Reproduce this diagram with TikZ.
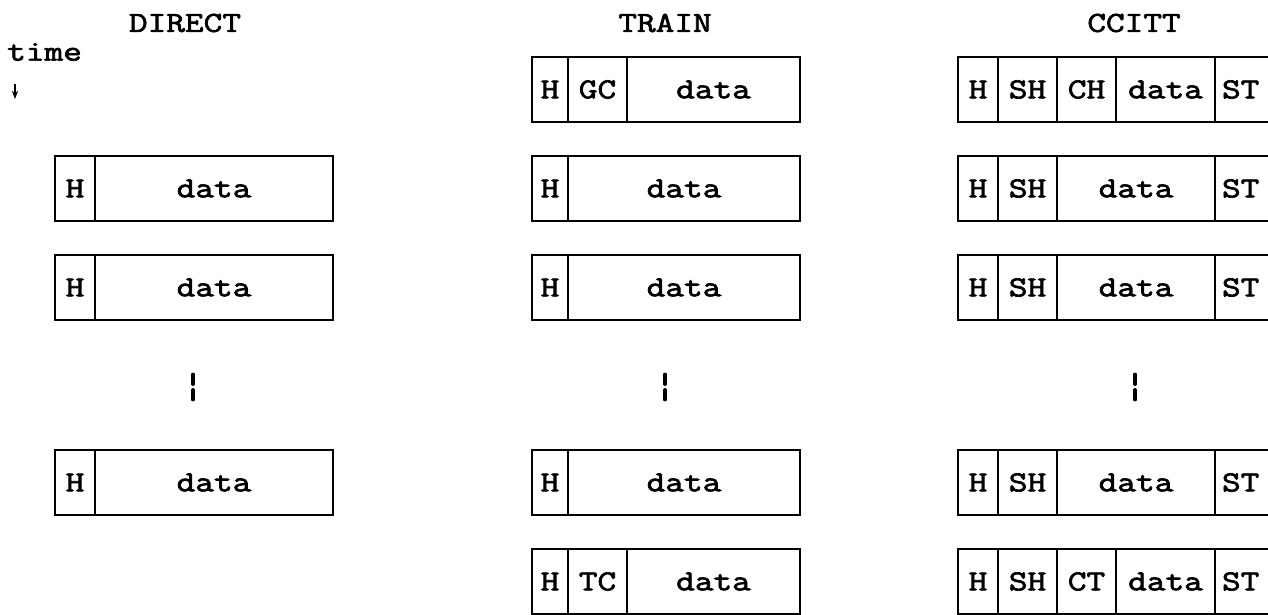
\documentclass[tikz,border=0pt]{standalone}
\usepackage{fontspec}
\setmonofont[FakeStretch=1.25, FakeBold=2.4]{Latin Modern Mono}
\usetikzlibrary{arrows.meta, positioning}
\newcommand{\tapefont}{\fontsize{29}{32}\selectfont\ttfamily}
\tikzset{
  >=Stealth,
  cell/.style={draw, line width=2.2pt, outer sep=0pt, inner sep=0pt,
               minimum height=65pt, font=\tapefont},
  stcell/.style={cell, minimum width=97pt, text width=83pt,
                 align=left, inner xsep=7pt},
  title/.style={font=\tapefont, inner sep=0pt},
  gap/.style={font=\fontsize{36}{40}\selectfont\ttfamily, inner sep=0pt},
}

\begin{document}
\begin{tikzpicture}[x=1pt, y=-1pt]
  \useasboundingbox (0,0) rectangle (1268,615);
  \clip (0,0) rectangle (1268,615);

  % ---- DIRECT ----
  \node[title] (dirtitle) at (185,23) {DIRECT};
  \node[title, anchor=west] (time) at (7,52) {time};
  \coordinate (timearrow) at (15,84);
  \draw[->, line width=1.2pt] (timearrow) -- ++(0,15);

  \node[cell, minimum width=40pt, anchor=west] (dirh1) at (55,188.5) {H};
  \node[cell, minimum width=238pt, right=0pt of dirh1] (dird1) {data};
  \node[cell, minimum width=40pt, anchor=west] (dirh2) at (55,287.5) {H};
  \node[cell, minimum width=238pt, right=0pt of dirh2] (dird2) {data};
  \node[gap] (dirgap) at (193,387) {¦};
  \node[cell, minimum width=40pt, anchor=west] (dirh4) at (55,482.5) {H};
  \node[cell, minimum width=238pt, right=0pt of dirh4] (dird4) {data};

  % ---- TRAIN ----
  \node[title] (trtitle) at (665,23) {TRAIN};

  \node[cell, minimum width=36pt, anchor=west] (trh0) at (532,89.5) {H};
  \node[cell, minimum width=59pt, right=0pt of trh0] (trgc) {GC};
  \node[cell, minimum width=173pt, right=0pt of trgc] (trd0) {data};

  \node[cell, minimum width=36pt, anchor=west] (trh1) at (532,188.5) {H};
  \node[cell, minimum width=232pt, right=0pt of trh1] (trd1) {data};
  \node[cell, minimum width=36pt, anchor=west] (trh2) at (532,287.5) {H};
  \node[cell, minimum width=232pt, right=0pt of trh2] (trd2) {data};
  \node[gap] (trgap) at (665,387) {¦};
  \node[cell, minimum width=36pt, anchor=west] (trh4) at (532,482.5) {H};
  \node[cell, minimum width=232pt, right=0pt of trh4] (trd4) {data};

  \node[cell, minimum width=36pt, anchor=west] (trh5) at (532,581.5) {H};
  \node[cell, minimum width=59pt, right=0pt of trh5] (trtc) {TC};
  \node[cell, minimum width=173pt, right=0pt of trtc] (trd5) {data};

  % ---- CCITT ----
  \node[title] (cctitle) at (1134,23) {CCITT};

  \node[cell, minimum width=40pt, anchor=west] (cch0) at (958,89.5) {H};
  \node[cell, minimum width=59pt, right=0pt of cch0] (ccsh0) {SH};
  \node[cell, minimum width=59pt, right=0pt of ccsh0] (ccch) {CH};
  \node[cell, minimum width=99pt, right=0pt of ccch] (ccd0) {data};
  \node[stcell, right=0pt of ccd0] (ccst0) {ST};

  \node[cell, minimum width=40pt, anchor=west] (cch1) at (958,188.5) {H};
  \node[cell, minimum width=59pt, right=0pt of cch1] (ccsh1) {SH};
  \node[cell, minimum width=158pt, right=0pt of ccsh1] (ccd1) {data};
  \node[stcell, right=0pt of ccd1] (ccst1) {ST};

  \node[cell, minimum width=40pt, anchor=west] (cch2) at (958,287.5) {H};
  \node[cell, minimum width=59pt, right=0pt of cch2] (ccsh2) {SH};
  \node[cell, minimum width=158pt, right=0pt of ccsh2] (ccd2) {data};
  \node[stcell, right=0pt of ccd2] (ccst2) {ST};

  \node[gap] (ccgap) at (1135,387) {¦};

  \node[cell, minimum width=40pt, anchor=west] (cch4) at (958,482.5) {H};
  \node[cell, minimum width=59pt, right=0pt of cch4] (ccsh4) {SH};
  \node[cell, minimum width=158pt, right=0pt of ccsh4] (ccd4) {data};
  \node[stcell, right=0pt of ccd4] (ccst4) {ST};

  \node[cell, minimum width=40pt, anchor=west] (cch5) at (958,581.5) {H};
  \node[cell, minimum width=59pt, right=0pt of cch5] (ccsh5) {SH};
  \node[cell, minimum width=59pt, right=0pt of ccsh5] (ccct) {CT};
  \node[cell, minimum width=99pt, right=0pt of ccct] (ccd5) {data};
  \node[stcell, right=0pt of ccd5] (ccst5) {ST};

\end{tikzpicture}
\end{document}
